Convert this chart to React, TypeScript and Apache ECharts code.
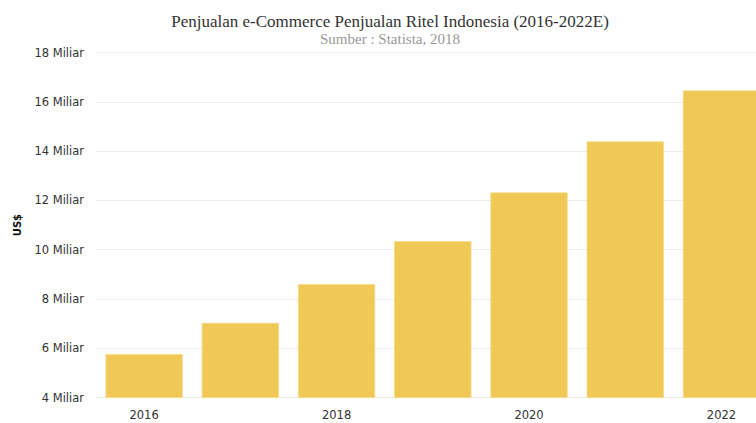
import React, { useEffect, useRef } from "react";
import * as echarts from "echarts";

const titleText = "Penjualan e-Commerce Penjualan Ritel Indonesia (2016-2022E)";
const subtitleText = "Sumber : Statista, 2018";
const years = ["2016", "2017", "2018", "2019", "2020", "2021", "2022"];
const salesBillion = [5.77, 7.04, 8.61, 10.35, 12.33, 14.4, 16.47];
const yAxisName = "US$";

export default function App() {
  const ref = useRef<HTMLDivElement>(null);
  useEffect(() => {
    if (!ref.current) return;
    const chart = echarts.init(ref.current, undefined, { renderer: "svg" });
    chart.setOption({
      animation: false,
      backgroundColor: "#ffffff",
      title: {
        text: titleText,
        subtext: subtitleText,
        left: "center",
        top: 8,
        itemGap: 1,
        textStyle: {
          fontFamily: "Liberation Serif",
          fontSize: 17,
          fontWeight: "normal",
          color: "#333333",
        },
        subtextStyle: {
          fontFamily: "Liberation Serif",
          fontSize: 15,
          color: "#999999",
        },
      },
      grid: { left: 96, right: 10.4, top: 52.6, bottom: 25.4, containLabel: false },
      xAxis: {
        type: "category",
        data: years,
        axisLine: { show: false },
        axisTick: { show: false },
        axisLabel: {
          interval: 1,
          color: "#333333",
          fontFamily: "DejaVu Sans",
          fontSize: 11.5,
          margin: 11,
        },
      },
      yAxis: {
        type: "value",
        min: 4,
        max: 18,
        interval: 2,
        name: yAxisName,
        nameLocation: "middle",
        nameGap: 74,
        nameTextStyle: {
          fontFamily: "DejaVu Sans",
          fontWeight: "bold",
          fontSize: 10,
          color: "#111111",
        },
        axisLine: { show: false },
        axisTick: { show: false },
        splitLine: { lineStyle: { color: "#ececec", width: 1 } },
        axisLabel: {
          formatter: (v: number) => `${v} Miliar`,
          color: "#333333",
          fontFamily: "DejaVu Sans",
          fontSize: 11.5,
          margin: 12,
        },
      },
      series: [
        {
          type: "bar",
          data: salesBillion,
          barCategoryGap: "19.5%",
          itemStyle: {
            color: "rgba(238,192,62,0.88)",
            borderColor: "rgba(245,220,140,0.9)",
            borderWidth: 1,
          },
        },
      ],
    });
    return () => chart.dispose();
  }, []);
  return (
    <div style={{ position: "fixed", left: 0, top: 0, width: 756, height: 423, overflow: "hidden", background: "#fff" }}>
      <div ref={ref} style={{ width: 780, height: 423 }} />
    </div>
  );
}
